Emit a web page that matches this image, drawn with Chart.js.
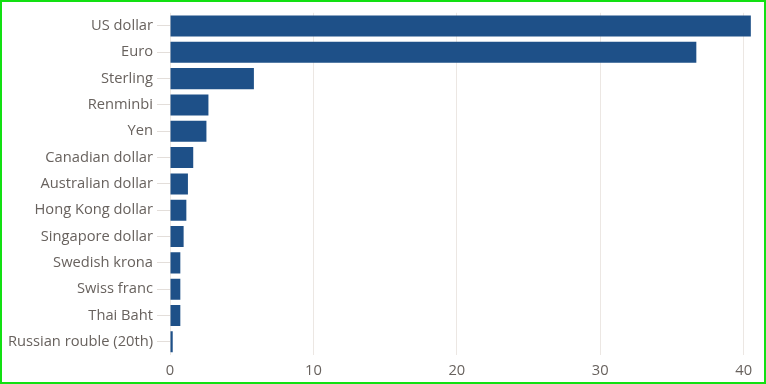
<!DOCTYPE html>
<html>
<head>
<meta charset="utf-8">
<script src="https://cdn.jsdelivr.net/npm/chart.js@4.4.1/dist/chart.umd.min.js"></script>
<style>
  html, body { margin: 0; padding: 0; background: #ffffff; }
  #wrap { position: relative; width: 766px; height: 384px; }
  #frame { position: absolute; left: 0; top: 0; width: 762px; height: 380px; border: 2px solid #12e012; pointer-events: none; }
</style>
</head>
<body>
<div id="wrap">
  <canvas id="c" width="766" height="384"></canvas>
  <div id="frame"></div>
</div>
<script>
const categories = [
  "US dollar", "Euro", "Sterling", "Renminbi", "Yen", "Canadian dollar",
  "Australian dollar", "Hong Kong dollar", "Singapore dollar", "Swedish krona",
  "Swiss franc", "Thai Baht", "Russian rouble (20th)"
];
const shares = [40.5, 36.7, 5.85, 2.68, 2.54, 1.62, 1.25, 1.14, 0.95, 0.72, 0.72, 0.72, 0.19];
const xTickValues = [0, 10, 20, 30, 40];

const textColor = "#68625e";
const gridColor = "#ece7e3";
const font = { family: "'Open Sans', sans-serif", size: 14.7 };

new Chart(document.getElementById("c"), {
  type: "bar",
  data: {
    labels: categories,
    datasets: [{
      data: shares,
      backgroundColor: "#1e5088",
      borderWidth: 0,
      barPercentage: 0.8,
      categoryPercentage: 1.0
    }]
  },
  options: {
    indexAxis: "y",
    responsive: false,
    animation: false,
    devicePixelRatio: 1,
    layout: { padding: { left: 0, right: 8, top: 9, bottom: 0 } },
    plugins: { legend: { display: false }, tooltip: { enabled: false } },
    scales: {
      x: {
        min: 0,
        max: 41,
        ticks: { stepSize: 10, color: textColor, font: font, padding: 7 },
        afterBuildTicks: (scale) => {
          scale.ticks = xTickValues.map(v => ({ value: v }));
        },
        afterFit: (scale) => { scale.height = 29; },
        grid: { color: gridColor, lineWidth: 1, drawTicks: false },
        border: { display: false }
      },
      y: {
        ticks: { color: textColor, font: font, padding: 4 },
        afterFit: (scale) => { scale.width = 170; },
        grid: { offset: false, drawOnChartArea: false, drawTicks: true, tickLength: 13, color: "#e3deda" },
        border: { display: false }
      }
    }
  }
});
</script>
</body>
</html>
